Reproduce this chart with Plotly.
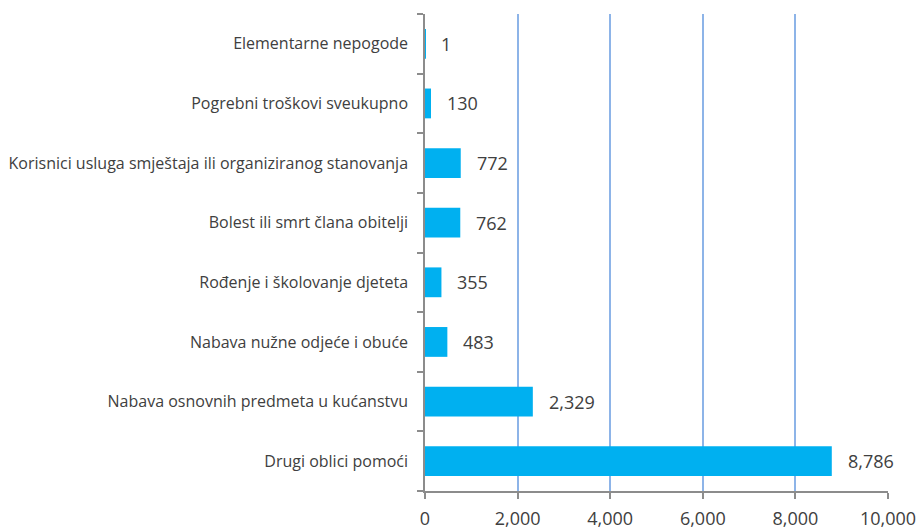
import plotly.graph_objects as go

# categories listed bottom to top (as plotly draws them on a horizontal bar axis)
categories = [
    "Drugi oblici pomoći",
    "Nabava osnovnih predmeta u kućanstvu",
    "Nabava nužne odjeće i obuće",
    "Rođenje i školovanje djeteta",
    "Bolest ili smrt člana obitelji",
    "Korisnici usluga smještaja ili organiziranog stanovanja",
    "Pogrebni troškovi sveukupno",
    "Elementarne nepogode",
]
values = [8786, 2329, 483, 355, 762, 772, 130, 1]
x_ticks = [0, 2000, 4000, 6000, 8000, 10000]

font_family = "'Open Sans', Lato, sans-serif"
text_color = "#404040"

fig = go.Figure(go.Bar(
    x=values,
    y=categories,
    orientation="h",
    marker=dict(color="#00B0F0", line=dict(width=0)),
    hoverinfo="x+y",
))

# value labels right of each bar
for cat, val in zip(categories, values):
    fig.add_annotation(
        x=val, y=cat, text=f"{val:,}", showarrow=False,
        xanchor="left", xshift=14,
        font=dict(family=font_family, size=18, color=text_color),
    )

fig.update_layout(
    width=921,
    height=530,
    margin=dict(l=425, r=33, t=14, b=39),
    paper_bgcolor="white",
    plot_bgcolor="white",
    bargap=0.5,
    showlegend=False,
    font=dict(family=font_family, color=text_color),
)

fig.update_xaxes(
    range=[0, 10000],
    tickvals=x_ticks,
    ticktext=[f"{v:,}" for v in x_ticks],
    tickfont=dict(size=18, color=text_color),
    showgrid=True,
    gridcolor="#8DB4E8",
    gridwidth=1.5,
    zeroline=False,
    showline=True,
    linecolor="#8C8C8C",
    linewidth=1.5,
    ticks="outside",
    ticklen=6,
    tickcolor="#8C8C8C",
    tickwidth=1.5,
    ticklabelstandoff=5,
    automargin=False,
    fixedrange=True,
)

fig.update_yaxes(
    type="category",
    categoryorder="array",
    categoryarray=categories,
    tickfont=dict(size=16, color=text_color),
    showgrid=False,
    showline=True,
    linecolor="#8C8C8C",
    linewidth=1.5,
    ticks="outside",
    tickson="boundaries",
    ticklen=6,
    tickcolor="#8C8C8C",
    tickwidth=1.5,
    ticklabelstandoff=12,
    automargin=False,
    fixedrange=True,
)

# drop the default page margin so the 921x530 figure fills the window exactly
fig.write_html(
    "out.html",
    config={"displayModeBar": False},
    post_script="document.body.style.margin='0';",
)
